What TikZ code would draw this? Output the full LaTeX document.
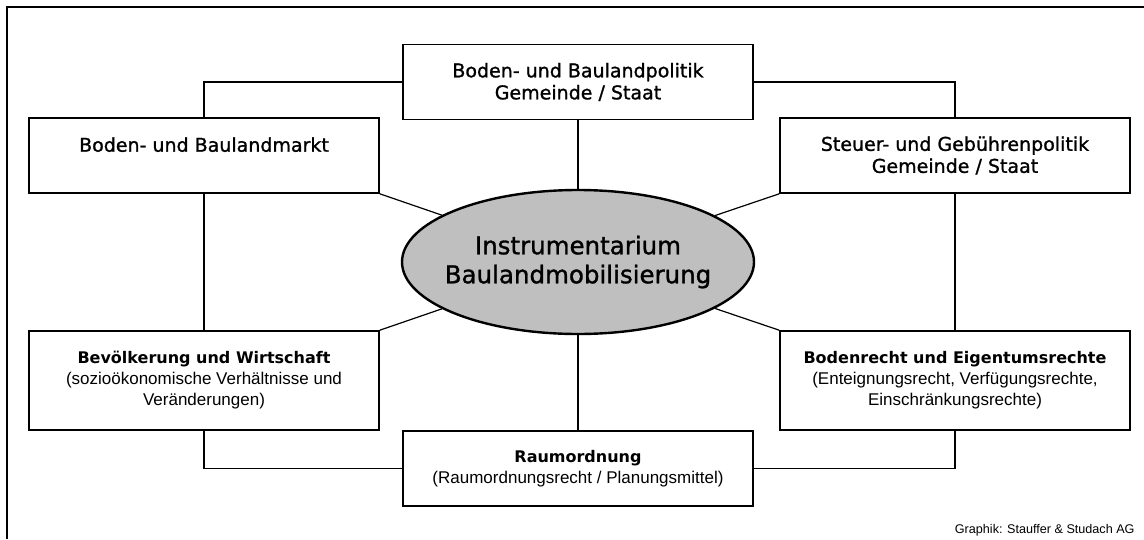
\documentclass[tikz,border=0pt]{standalone}
\usepackage{fontspec}
\setmainfont{DejaVu Sans}
\newfontfamily\lsans{Liberation Sans}
\newfontfamily\hdfont{DejaVu Sans}[RawFeature={embolden=1.2}]
\usetikzlibrary{shapes.geometric}

\begin{document}
\begin{tikzpicture}[
		x=1pt, y=-1pt,
		bx/.style={draw, line width=1.6pt, minimum width=350pt, minimum height=75pt, align=center, inner sep=2pt},
		hd/.style={font=\hdfont\fontsize{19}{22}\selectfont},
		sb/.style={font=\lsans\fontsize{17}{21}\selectfont},
		el/.style={ellipse, draw, line width=2.4pt, fill=black!25, minimum width=352pt, minimum height=144pt, inner sep=0pt},
		ln/.style={line width=1.2pt}]
	%% frame
	\useasboundingbox (0,0) rectangle (1144,539);
	\draw[line width=2pt] (7,539) -- (7,7) -- (1144,7);
	%% centre
	\node at (578,262) [el, label={[align=center, font=\hdfont\fontsize{24.5}{29}\selectfont]center:Instrumentarium\\Baulandmobilisierung}] (core) {};
	%% boxes
	\node at (578,82) [bx, hd] (politik) {Boden- und Baulandpolitik\\Gemeinde / Staat};
	\node at (204,155.5) [bx, hd, text depth=22pt] (markt) {Boden- und Baulandmarkt};
	\node at (955,155.5) [bx, hd] (steuer) {Steuer- und Gebührenpolitik\\Gemeinde / Staat};
	\node at (204,380.5) [bx, sb, minimum height=99pt] (bevoelk) {{\fontspec{DejaVu Sans}\fontsize{16}{21}\selectfont\bfseries Bevölkerung und Wirtschaft}\\(sozioökonomische Verhältnisse und\\Veränderungen)};
	\node at (955,380.5) [bx, sb, minimum height=99pt] (recht) {{\fontspec{DejaVu Sans}\fontsize{16}{21}\selectfont\bfseries Bodenrecht und Eigentumsrechte}\\(Enteignungsrecht, Verfügungsrechte,\\Einschränkungsrechte)};
	\node at (578,468.5) [bx, sb] (raum) {{\fontspec{DejaVu Sans}\fontsize{16}{21}\selectfont\bfseries Raumordnung}\\(Raumordnungsrecht / Planungsmittel)};
	%% outer ring
	\draw[ln] (markt.north) |- (politik.west);
	\draw[ln] (politik.east) -| (steuer.north);
	\draw[ln] (markt.south) -- (bevoelk.north);
	\draw[ln] (steuer.south) -- (recht.north);
	\draw[ln] (bevoelk.south) |- (raum.west);
	\draw[ln] (recht.south) |- (raum.east);
	%% spokes
	\draw[ln] (politik) -- (core);
	\draw[ln] (raum) -- (core);
	\draw[ln] (markt.south east) -- (core);
	\draw[ln] (steuer.south west) -- (core);
	\draw[ln] (bevoelk.north east) -- (core);
	\draw[ln] (recht.north west) -- (core);
	%% credit
	\node at (1138,533) [anchor=base east, font=\lsans\fontsize{12.6}{14}\selectfont] (credit) {Graphik: Stauffer \& Studach AG};
\end{tikzpicture}
\end{document}
